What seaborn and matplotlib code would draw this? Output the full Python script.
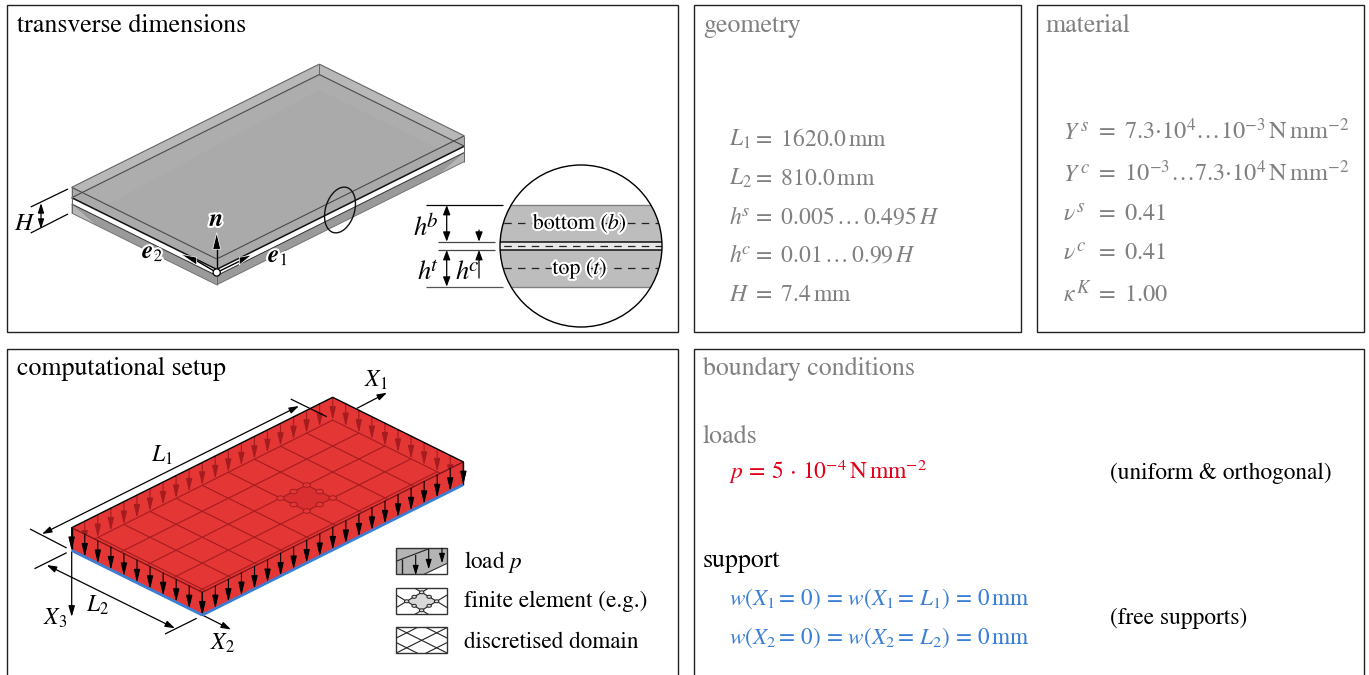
#!/usr/bin/env python
# coding: utf-8

import numpy as np
import pandas as pd
import seaborn as sns
import matplotlib.pyplot as plt
import matplotlib.patheffects as pe
from matplotlib.patches import Polygon, Rectangle, Circle, Ellipse

# panel texts
panel_titles = ['transverse dimensions', 'geometry', 'material', 'computational setup', 'boundary conditions']
geometry_symbols = [r'$L_1$', r'$L_2$', r'$h$', r'$h$', r'$H$']
geometry_sups = ['', '', '$s$', '$c$', '']
geometry_values = [r'$=\ 1620.0\,\mathrm{mm}$', r'$=\ 810.0\,\mathrm{mm}$', r'$=\ 0.005\,\ldots\,0.495\,H$',
                   r'$=\ 0.01\,\ldots\,0.99\,H$', r'$=\ 7.4\,\mathrm{mm}$']
material_symbols = [r'$Y$', r'$Y$', r'$\nu$', r'$\nu$', r'$\kappa$']
material_sups = ['$s$', '$c$', '$s$', '$c$', '$K$']
material_values = [r'$=\,\,7.3{\cdot}10^4\ldots 10^{-3}\,\mathrm{N\,mm}^{-2}$',
                   r'$=\,\,10^{-3}\ldots 7.3{\cdot}10^4\,\mathrm{N\,mm}^{-2}$',
                   r'$=\,\,0.41$', r'$=\,\,0.41$', r'$=\,\,1.00$']
load_text = r'$p\,=\,5\,\cdot\,10^{-4}\,\mathrm{N\,mm}^{-2}$'
support_text = [r'$w(X_1{=}\,0)\,=\,w(X_1{=}\,L_1)\,=\,0\,\mathrm{mm}$',
                r'$w(X_2{=}\,0)\,=\,w(X_2{=}\,L_2)\,=\,0\,\mathrm{mm}$']
legend_labels = ['load $p$', 'finite element (e.g.)', 'discretised domain']

# mesh and load arrows of the plate
n_cells_l1 = 10
n_cells_l2 = 5
n_arrows_l1 = 20
n_arrows_l2 = 10

GRAY = '#808080'
RED = '#e53636'
DARKRED = '#a51c1f'
BLUE = '#3a7fd6'
TEXTRED = '#e2001a'

sns.set_theme(style='white')
plt.rcParams['font.family'] = ['STIXGeneral', 'DejaVu Serif']
plt.rcParams['mathtext.fontset'] = 'stix'

fig = plt.figure(figsize=(13.69, 6.75), dpi=100)
ax = fig.add_axes([0, 0, 1, 1])


def txt(x, y, s, size=17, color='black', ha='left', **kw):
    return ax.text(x, y, s, fontsize=size, color=color, ha=ha, va='baseline', **kw)


def arrow(p0, p1, color='black', lw=0.9, hl=10, hw=2.7, both=False, z=3, **kw):
    style = '<|-|>' if both else '-|>'
    a = ax.annotate('', xy=p1, xytext=p0, zorder=z,
                    arrowprops=dict(arrowstyle=f'{style},head_length={hl * 0.72},head_width={hw * 0.72}',
                                    mutation_scale=1, color=color, lw=lw, shrinkA=0, shrinkB=0, **kw))
    return a


def line(xs, ys, color='black', lw=0.9, z=3, **kw):
    return ax.plot(xs, ys, color=color, lw=lw, zorder=z, solid_capstyle='butt', **kw)[0]


def plate(origin, u_vec, v_vec):
    def pt(u, v, z=0.0):
        return (origin[0] + u * u_vec[0] + v * v_vec[0], origin[1] + u * u_vec[1] + v * v_vec[1] + z)
    return pt


# frames
for x0, y0, x1, y1 in [(7, 5, 678, 332), (694, 5, 1021, 332), (1037, 5, 1364, 332), (7, 349, 678, 690), (694, 349, 1364, 690)]:
    ax.add_patch(Rectangle((x0, y0), x1 - x0, y1 - y0, fc='none', ec='#222222', lw=1.0, zorder=1))

title_pos = [(17, 32, 'black'), (703, 32, GRAY), (1046, 32, GRAY), (17, 375, 'black'), (703, 375, GRAY)]
for (x, y, c), t in zip(title_pos, panel_titles):
    txt(x, y, t, size=18.6, color=c)

# geometry / material rows
for s, u, v, y in zip(geometry_symbols, geometry_sups, geometry_values, [146, 185, 224, 262, 301]):
    txt(729, y, s, color=GRAY)
    txt(741, y - 8, u, size=13, color=GRAY)
    txt(752, y, v, color=GRAY)
for s, u, v, y, sx in zip(material_symbols, material_sups, material_values, [139, 181, 220, 259, 301],
                          [1080.5, 1080.5, 1076.5, 1076.5, 1076.5]):
    txt(1063, y, s, color=GRAY)
    txt(sx, y - 8, u, size=13.5, color=GRAY)
    txt(1095, y, v, size=17.5, color=GRAY)

# boundary conditions
txt(703, 443, 'loads', size=18.6, color=GRAY)
txt(729, 479, load_text, size=16.9, color=TEXTRED)
txt(1110, 479, '(uniform & orthogonal)', size=16.8)
txt(703, 567, 'support', size=18.6)
txt(729, 605, support_text[0], size=16.7, color=BLUE)
txt(729, 644, support_text[1], size=16.7, color=BLUE)
txt(1110, 624, '(free supports)', size=16.8)

# ---- layered plate, top left
pt = plate((216.7, 259), (247.6, -123.2), (-145, -71.7))
z_core_top, z_core_bot, z_bottom = 10.4, 16.7, 25.8
ax.add_patch(Polygon([pt(0, 1), pt(1, 1), pt(1, 0), pt(1, 0, z_bottom), pt(0, 0, z_bottom), pt(0, 1, z_bottom)],
                     fc='#b8b8b8', ec='none', zorder=2))
ax.add_patch(Polygon([pt(0, 1, z_core_top), pt(1, 1, z_core_top), pt(1, 0, z_core_top), pt(0, 0, z_core_top)],
                     fc='#adadad', ec='none', zorder=2))
ax.add_patch(Polygon([pt(0.04, 0.93, z_bottom), pt(1, 1, z_bottom), pt(1, 0.04, z_bottom), pt(0, 0, z_bottom)],
                     fc='#aaaaaa', ec='none', zorder=2))
for a, b in [((0, 0), (1, 0)), ((0, 0), (0, 1))]:
    ax.add_patch(Polygon([pt(*a, 0), pt(*b, 0), pt(*b, z_core_top), pt(*a, z_core_top)], fc='#aaaaaa', ec='none', zorder=2))
    ax.add_patch(Polygon([pt(*a, z_core_top), pt(*b, z_core_top), pt(*b, z_core_bot), pt(*a, z_core_bot)], fc='white', ec='none', zorder=2))
    ax.add_patch(Polygon([pt(*a, z_core_bot), pt(*b, z_core_bot), pt(*b, z_bottom), pt(*a, z_bottom)], fc='#9a9a9a', ec='none', zorder=2))
    line(*zip(pt(*a, 0), pt(*b, 0)), color='#4a4a4a', lw=0.8)
    line(*zip(pt(*a, z_core_top), pt(*b, z_core_top)), color='#111111', lw=1.1)
    line(*zip(pt(*a, z_core_bot), pt(*b, z_core_bot)), color='#333333', lw=0.7)
    line(*zip(pt(*a, z_bottom), pt(*b, z_bottom)), color='#777777', lw=0.7)
# the far corner shows through the lower layer at both ends
ax.add_patch(Polygon([pt(0, 1, z_core_bot), pt(0, 1, z_bottom), pt(0, 0.83, z_bottom)], fc='#b6b6b6', ec='none', zorder=2.1))
ax.add_patch(Polygon([pt(1, 0, z_core_bot), pt(1, 0, z_bottom), pt(0.9, 0, z_bottom)], fc='#b6b6b6', ec='none', zorder=2.1))
for a, b in [((0, 1), (1, 1)), ((1, 1), (1, 0))]:
    line(*zip(pt(*a, 0), pt(*b, 0)), color='#666666', lw=0.8)
    line(*zip(pt(*a, z_core_top), pt(*b, z_core_top)), color='#4a4a4a', lw=0.8)
for c in [(0, 0), (0, 1), (1, 1), (1, 0)]:
    line(*zip(pt(*c, 0), pt(*c, z_core_top if c == (1, 1) else z_bottom)), color='#666666', lw=0.7)

# base vectors, heads follow the isometric view
origin = pt(0, 0, 13.5)
line([origin[0], origin[0]], [origin[1], 248], lw=1.0, z=5)
line([origin[0], 240], [origin[1], 261], lw=1.0, z=5)
line([origin[0], 197], [origin[1], 261], lw=1.0, z=5)
for head in [[(216.7, 232.7), (212.7, 249.3), (220.7, 249.3)],
             [(251.7, 255), (239.3, 257.3), (239.3, 265)],
             [(181, 254.3), (196.7, 257.3), (196.7, 265)]]:
    ax.add_patch(Polygon(head, fc='black', ec='white', lw=0.5, zorder=5))
ax.add_patch(Circle(origin, 3.6, fc='white', ec='black', lw=0.9, zorder=6))
halo = [pe.withStroke(linewidth=3, foreground='white')]
txt(216.7, 226, r'$\mathbfit{n}$', size=18, ha='center', zorder=7, path_effects=halo)
txt(142, 258, r'$\mathbfit{e}_2$', size=18, zorder=7, path_effects=halo)
txt(268, 262, r'$\mathbfit{e}_1$', size=18, zorder=7, path_effects=halo)
ax.add_patch(Ellipse((340, 210), 47, 29, angle=-73, fc='none', ec='#111111', lw=1.0, zorder=5))

# H dimension
line([30.7, 68], [207, 189], lw=0.9)
line([30.7, 68], [233, 214], lw=0.9)
arrow((41, 203), (41, 229), both=True, hl=8, hw=2.5)
txt(14, 230, '$H$', size=18)

# ---- magnified section
lens = Circle((581, 246), 81, fc='white', ec='black', lw=1.0, zorder=5)
ax.add_patch(Circle((581, 246), 81, fc='white', ec='none', zorder=2))
ax.add_patch(lens)
lens.set_facecolor('none')
clip = Circle((581, 246), 81, transform=ax.transData)
sections = [(205, 241.7, '#bdbdbd'), (241.7, 250, '#e8e8e8'), (250, 286.7, '#bdbdbd')]
for y0, y1, c in sections:
    r = Rectangle((490, y0), 182, y1 - y0, fc=c, ec='none', zorder=3)
    ax.add_patch(r)
    r.set_clip_path(clip)
for y, c, lw, ls in [(205, '#808080', 1.0, '-'), (286.7, '#808080', 1.0, '-'), (241.7, '#111111', 1.1, '-'), (250, '#111111', 1.1, '-'),
                     (223.3, '#222222', 0.9, (0, (6, 5))), (245.9, '#222222', 0.9, (0, (6, 5))), (268.3, '#222222', 0.9, (0, (6, 5)))]:
    l = ax.plot([490, 672], [y, y], color=c, lw=lw, ls=ls, zorder=4)[0]
    l.set_clip_path(clip)
txt(580, 229, r'bottom ($b$)', size=15.8, ha='center', zorder=6, path_effects=halo)
txt(580, 274, r'top ($t$)', size=15.8, ha='center', zorder=6, path_effects=halo)
line([426, 503], [205, 205])
line([426, 503], [286.7, 286.7], color='#555555')
line([438, 495], [241.7, 241.7], color='#444444')
line([438, 495], [250, 250], color='#444444')
arrow((446.7, 205), (446.7, 241.7), both=True, hl=8, hw=3)
arrow((446.7, 250), (446.7, 286.7), both=True, hl=8, hw=3)
arrow((479, 230), (479, 241.7), hl=8, hw=3)
arrow((479, 278), (479, 250), hl=8, hw=3)
for x, xs, base, sup in [(413, 425.5, 235, '$b$'), (417, 429.5, 279, '$t$'), (455, 467.5, 279, '$c$')]:
    txt(x, base, '$h$', size=19)
    txt(xs, base - 8, sup, size=15)

# ---- computational setup plate
p3 = plate((71.7, 527.7), (261, -130.4), (130.6, 64.6))
depth = 22.8
ax.add_patch(Polygon([pt_ for pt_ in [p3(0, 0), p3(1, 0), p3(1, 1), p3(1, 1, depth), p3(0, 1, depth), p3(0, 0, depth)]],
                     fc=RED, ec='none', zorder=2))
# arrows on the far walls
for i in range(n_arrows_l1 + 1):
    u = i / n_arrows_l1
    arrow(p3(u, 0), p3(u, 0, depth), color=DARKRED, hl=11, hw=2.6, lw=0.8, z=2.2)
for i in range(1, n_arrows_l2 + 1):
    v = i / n_arrows_l2
    arrow(p3(1, v), p3(1, v, depth), color=DARKRED, hl=11, hw=2.6, lw=0.8, z=2.2)
# near walls hide what is behind them
ax.add_patch(Polygon([p3(0, 0), p3(0, 1), p3(0, 1, depth), p3(0, 0, depth)], fc=RED, ec='none', zorder=2.4))
ax.add_patch(Polygon([p3(0, 1), p3(1, 1), p3(1, 1, depth), p3(0, 1, depth)], fc=RED, ec='none', zorder=2.4))

# mesh on the floor
rows = []
for i in range(n_cells_l1 + 1):
    for v in [0, 1]:
        x, y = p3(i / n_cells_l1, v, depth)
        rows.append({'line': f'a{i}', 'x': x, 'y': y})
for j in range(n_cells_l2 + 1):
    for u in [0, 1]:
        x, y = p3(u, j / n_cells_l2, depth)
        rows.append({'line': f'b{j}', 'x': x, 'y': y})
mesh = pd.DataFrame(rows)
n_before = len(ax.lines)
sns.lineplot(data=mesh, x='x', y='y', units='line', estimator=None, sort=False, color=DARKRED, lw=0.8, ax=ax, legend=False, zorder=2.6)
top_face = Polygon([p3(0, 0), p3(1, 0), p3(1, 1), p3(0, 1)], transform=ax.transData)
for l in ax.lines[n_before:]:
    l.set_clip_path(top_face)

# highlighted element
el_u = np.array([6, 7, 7, 6]) / n_cells_l1
el_v = np.array([2, 2, 3, 3]) / n_cells_l2
ax.add_patch(Polygon([p3(u, v, depth) for u, v in zip(el_u, el_v)], fc='#d92f31', ec='none', zorder=2.55))
for a, b in [(6, 2), (6.5, 2), (7, 2), (7, 2.5), (7, 3), (6.5, 3), (6, 3), (6, 2.5)]:
    ax.add_patch(Ellipse(p3(a / n_cells_l1, b / n_cells_l2, depth), 7.5, 4.5, fc=RED, ec=DARKRED, lw=0.7, zorder=2.7))

# top edges, near arrows, supports
for a, b in [((0, 0), (1, 0)), ((1, 0), (1, 1))]:
    line(*zip(p3(*a), p3(*b)), lw=1.0, z=3)
for a, b in [((0, 0), (0, 1)), ((0, 1), (1, 1))]:
    line(*zip(p3(*a), p3(*b)), color='#7a1416', lw=0.9, z=3)
line(*zip(p3(0, 0), p3(0, 0, depth)), lw=1.0, z=3)
line(*zip(p3(1, 1), p3(1, 1, depth)), lw=1.0, z=3)
for i in range(n_arrows_l2 + 1):
    v = i / n_arrows_l2
    arrow(p3(0, v), p3(0, v, depth), hl=11, hw=2.6, lw=0.8, z=3.5)
for i in range(n_arrows_l1 + 1):
    u = i / n_arrows_l1
    arrow(p3(u, 1), p3(u, 1, depth), hl=11, hw=2.6, lw=0.8, z=3.5)
line(*zip(p3(0, 0, depth), p3(0, 1, depth)), color=BLUE, lw=2.0, z=3.7)
line(*zip(p3(0, 1, depth), p3(1, 1, depth)), color=BLUE, lw=2.0, z=3.7)

# dimensions and axes of the plate
line([30, 66.7], [529, 548])
line([290.7, 326.7], [399, 416.7])
line([34.5, 66.7], [568.7, 552.7])
line([165, 196.7], [634, 618.3])
arrow((42, 534), (299, 406), both=True, hl=8, hw=2.6)
arrow((46.7, 565), (175, 628.3), both=True, hl=8, hw=2.6)
arrow((357, 408.3), (387, 392.7), hl=8, hw=2.6)
arrow((202.3, 615), (231, 629.5), hl=8, hw=2.6)
arrow((71.7, 552), (71.7, 617), hl=9, hw=2.6)
txt(151, 461.5, '$L_1$')
txt(86, 611.5, '$L_2$')
txt(43, 625, '$X_3$')
txt(210, 650, '$X_2$')
txt(364, 387, '$X_1$')

# ---- legend icons
boxes = [(396, 548.3), (396, 588.3), (396, 627.3)]
box_w, box_h = 51.3, 26
for (x0, y0), lab, y in zip(boxes, legend_labels, [568, 607, 648]):
    txt(464, y, lab, size=16.7)
    ax.add_patch(Rectangle((x0, y0), box_w, box_h, fc='none', ec='#333333', lw=1.0, zorder=4))


def family(cx, cy, offsets, slope, clip_box):
    for off in offsets:
        for s in (1, -1):
            xs = np.array([cx - 60, cx + 60])
            l = ax.plot(xs, cy + s * slope * (xs - cx) + off, color='#222222', lw=0.8, zorder=3)[0]
            l.set_clip_path(clip_box)


# load icon
x0, y0 = boxes[0]
ax.add_patch(Polygon([(x0, y0), (x0 + box_w, y0), (x0 + box_w, y0 + 15), (x0 + 28, y0 + box_h), (x0, y0 + box_h)], fc='#b4b4b4', ec='none', zorder=2))
line([x0 + 28, x0 + box_w], [y0 + box_h, y0 + 15], color='#333333', lw=0.8)
line([x0, x0 + 34], [y0 + 13, y0], color='#222222', lw=0.8)
line([x0 + 6, x0 + 6], [y0 + 11, y0 + box_h], color='#222222', lw=1.0)
arrow((x0 + 19.7, y0 + 7), (x0 + 19.7, y0 + box_h + 1), hl=8, hw=2.4, lw=0.8, z=5)
arrow((x0 + 32.7, y0 + 1), (x0 + 32.7, y0 + 21), hl=8, hw=2.4, lw=0.8, z=5)
arrow((x0 + 46, y0), (x0 + 46, y0 + 15), hl=8, hw=2.4, lw=0.8, z=5)

# element icon
x0, y0 = boxes[1]
cx, cy = x0 + box_w / 2, y0 + box_h / 2
icon2 = Rectangle((x0, y0), box_w, box_h, transform=ax.transData)
ax.add_patch(Polygon([(cx - 15, cy), (cx, cy - 9), (cx + 15, cy), (cx, cy + 9)], fc='#d9d9d9', ec='none', zorder=2))
family(cx, cy, [-9, 9], 0.6, icon2)
for dx, dy in [(-15, 0), (15, 0), (0, -9), (0, 9), (-7.5, -4.5), (7.5, -4.5), (-7.5, 4.5), (7.5, 4.5)]:
    ax.add_patch(Ellipse((cx + dx, cy + dy), 4.5, 3, fc='#d9d9d9', ec='#222222', lw=0.7, zorder=3.5))

# mesh icon
x0, y0 = boxes[2]
icon3 = Rectangle((x0, y0), box_w, box_h, transform=ax.transData)
family(x0 + box_w / 2, y0 + box_h / 2, [-15, 0, 15], 0.5, icon3)

ax.set_xlim(0, 1369)
ax.set_ylim(675, 0)
ax.set_xlabel('')
ax.set_ylabel('')
ax.set_axis_off()
fig.savefig('out.png', dpi=100)
